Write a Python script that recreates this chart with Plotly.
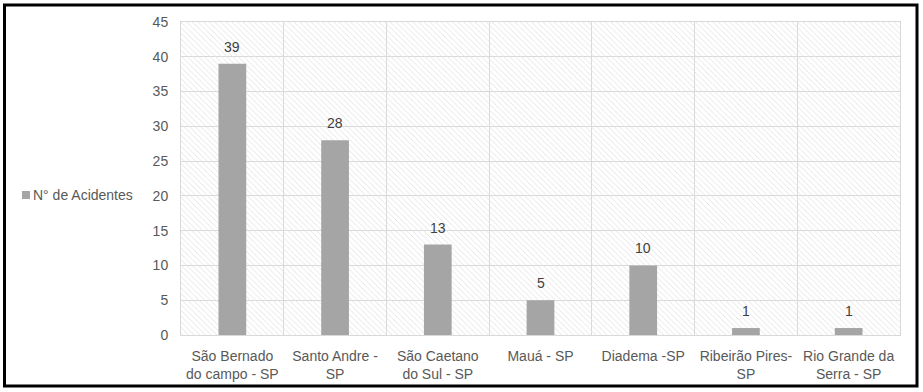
import plotly.graph_objects as go

categories = ["São Bernado<br>do campo - SP", "Santo Andre -<br>SP", "São Caetano<br>do Sul - SP",
              "Mauá - SP", "Diadema -SP", "Ribeirão Pires-<br>SP", "Rio Grande da<br>Serra - SP"]
values = [39, 28, 13, 5, 10, 1, 1]
series_name = "N° de Acidentes"
y_ticks = [0, 5, 10, 15, 20, 25, 30, 35, 40, 45]

W, H = 923, 392
L, R, T, B = 181, 23, 22, 57
pw, ph = W - L - R, H - T - B
FONT = "Liberation Sans, Arial"

def px_x(x):
    return (x - L) / pw

def px_y(y):
    return (H - B - y) / ph

fig = go.Figure()
# hatched plot-area background
fig.add_trace(go.Bar(
    x=[categories[3]], y=[y_ticks[-1]], width=[len(categories)],
    marker=dict(color="#e2e2e2", line=dict(width=0),
                pattern=dict(shape="\\", size=4, solidity=0.22, fillmode="replace")),
    showlegend=False, hoverinfo="skip",
))
fig.add_trace(go.Bar(
    x=categories, y=values, name=series_name, width=0.27,
    marker=dict(color="#a5a5a5", line=dict(width=0)),
    showlegend=False,
))

annotations = [dict(x=c, y=v, text=str(v), xref="x", yref="y", yanchor="bottom",
                    yshift=7, showarrow=False,
                    font=dict(family=FONT, size=14, color="#404040"))
               for c, v in zip(categories, values)]
annotations.append(dict(text=series_name, xref="paper", yref="paper",
                        x=px_x(31), y=px_y(195), xanchor="left", yanchor="middle",
                        showarrow=False, font=dict(family=FONT, size=14, color="#595959")))

fig.update_layout(
    width=W, height=H, margin=dict(l=L, r=R, t=T, b=B, autoexpand=False),
    paper_bgcolor="white", plot_bgcolor="white",
    barmode="overlay",
    font=dict(family=FONT, size=14, color="#595959"),
    showlegend=False,
    xaxis=dict(type="category", categoryorder="array", categoryarray=categories,
               tickson="boundaries", showgrid=True, gridcolor="#d9d9d9",
               showline=True, linecolor="#d9d9d9", mirror=True, ticks="",
               tickangle=0, automargin=False, ticklabelstandoff=8,
               tickfont=dict(family=FONT, size=14, color="#595959")),
    yaxis=dict(range=[0, 45], tickvals=y_ticks, showgrid=True, gridcolor="#d9d9d9",
               showline=True, linecolor="#d9d9d9", mirror=True, ticks="", zeroline=False,
               automargin=False, ticklabelstandoff=9,
               tickfont=dict(family=FONT, size=14, color="#595959")),
    shapes=[
        dict(type="rect", xref="paper", yref="paper",
             x0=px_x(4.5), x1=px_x(917), y0=px_y(386), y1=px_y(5),
             line=dict(color="black", width=3)),
        # legend key
        dict(type="rect", xref="paper", yref="paper",
             x0=px_x(22), x1=px_x(30), y0=px_y(199), y1=px_y(191),
             fillcolor="#a5a5a5", line=dict(width=0)),
    ],
    annotations=annotations,
)

fig.write_html("out.html", config={"displayModeBar": False},
               post_script="document.body.style.margin='0px';")
